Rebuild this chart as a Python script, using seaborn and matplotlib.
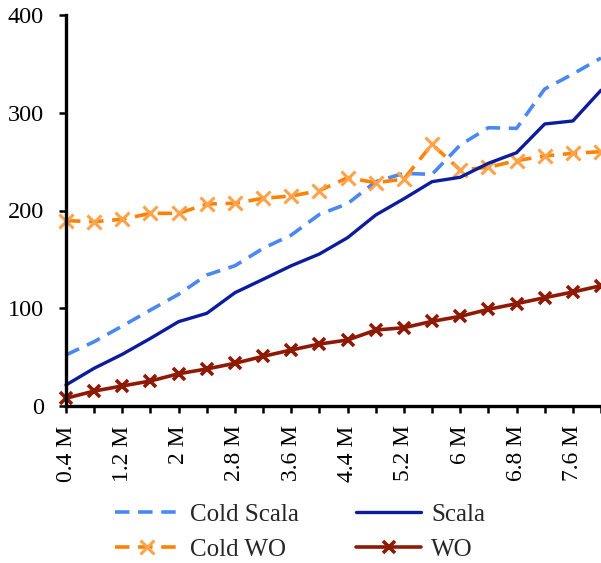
import matplotlib
matplotlib.use("Agg")
import matplotlib.pyplot as plt
import seaborn as sns
import pandas as pd

# Dataset sizes (millions of records)
sizes = [0.4, 0.8, 1.2, 1.6, 2.0, 2.4, 2.8, 3.2, 3.6, 4.0,
         4.4, 4.8, 5.2, 5.6, 6.0, 6.4, 6.8, 7.2, 7.6, 8.0]

cold_scala = [52.2, 65.8, 81.8, 98.2, 114.3, 134.0, 143.5, 161.3, 174.9, 196.0,
              207.0, 229.5, 238.0, 237.0, 267.0, 284.7, 284.0, 324.3, 339.6, 356.0]
scala = [21.5, 38.6, 52.9, 69.2, 86.3, 94.8, 115.9, 129.6, 143.5, 155.5,
         172.2, 195.4, 212.0, 229.5, 234.0, 248.3, 259.1, 288.5, 291.6, 323.0]
cold_wo = [189.6, 188.6, 191.0, 197.1, 197.1, 206.6, 207.4, 212.5, 214.8, 220.3,
           233.6, 228.4, 232.2, 267.7, 241.4, 244.2, 251.0, 255.8, 258.5, 260.2]
wo = [7.9, 15.3, 20.5, 25.6, 33.0, 37.9, 43.7, 50.8, 57.3, 63.4,
      67.5, 77.7, 80.1, 86.6, 91.7, 98.9, 104.7, 110.8, 116.6, 123.1]

y_ticks = [0, 100, 200, 300, 400]

sns.set_theme(style="white")
plt.rcParams["font.family"] = ["Liberation Serif", "DejaVu Serif"]

df = pd.DataFrame({"size": sizes, "Cold Scala": cold_scala, "Scala": scala,
                   "Cold WO": cold_wo, "WO": wo})

fig = plt.figure(figsize=(6.01, 5.63), dpi=100)
ax = fig.add_axes([66 / 601, 1 - 406 / 563, 535 / 601, 391 / 563])

sns.lineplot(data=df, x="size", y="Cold Scala", ax=ax, color="#4a88f2",
             linewidth=2.6, label="Cold Scala", clip_on=False)
ax.lines[-1].set_dashes((4, 2.4))
sns.lineplot(data=df, x="size", y="Cold WO", ax=ax, color="#ff8205",
             linewidth=2.6, marker="x", markersize=10, markeredgewidth=2.2,
             markeredgecolor="#ffa24a", label="Cold WO", clip_on=False)
ax.lines[-1].set_dashes((4, 2.4))
sns.lineplot(data=df, x="size", y="Scala", ax=ax, color="#0b1d9c",
             linewidth=2.4, label="Scala", clip_on=False)
sns.lineplot(data=df, x="size", y="WO", ax=ax, color="#8e1a05",
             linewidth=2.6, marker="x", markersize=9, markeredgewidth=2.6,
             markeredgecolor="#8e1a05", label="WO", clip_on=False)

ax.set_xlim(0.4, 8.0)
ax.set_ylim(0, 400)
ax.set_yticks(y_ticks)
ax.set_yticklabels([str(v) for v in y_ticks], fontsize=17.5)
ax.set_xticks(sizes)
ax.set_xticklabels([(f"{s:g} M" if i % 2 == 0 else "") for i, s in enumerate(sizes)],
                   rotation=90, fontsize=17)
ax.set_xlabel("")
ax.set_ylabel("")

for side in ("top", "right"):
    ax.spines[side].set_visible(False)
for side in ("left", "bottom"):
    ax.spines[side].set_color("black")
    ax.spines[side].set_linewidth(2.4)
ax.tick_params(axis="both", which="major", direction="out", length=5, width=1.8,
               color="black", labelcolor="black", left=True, bottom=True)
ax.tick_params(axis="y", pad=11)
ax.tick_params(axis="x", pad=9)

handles, labels = ax.get_legend_handles_labels()
order = ["Cold Scala", "Cold WO", "Scala", "WO"]
hmap = dict(zip(labels, handles))
ax.legend([hmap[k] for k in order], order, loc="center",
          bbox_to_anchor=(300 / 601, 1 - 532 / 563), bbox_transform=fig.transFigure,
          ncol=2, frameon=False, fontsize=18,
          handlelength=2.6, columnspacing=2.3, labelspacing=0.5, handletextpad=0.4,
          borderpad=0.1)

fig.savefig("out.png", dpi=100)
